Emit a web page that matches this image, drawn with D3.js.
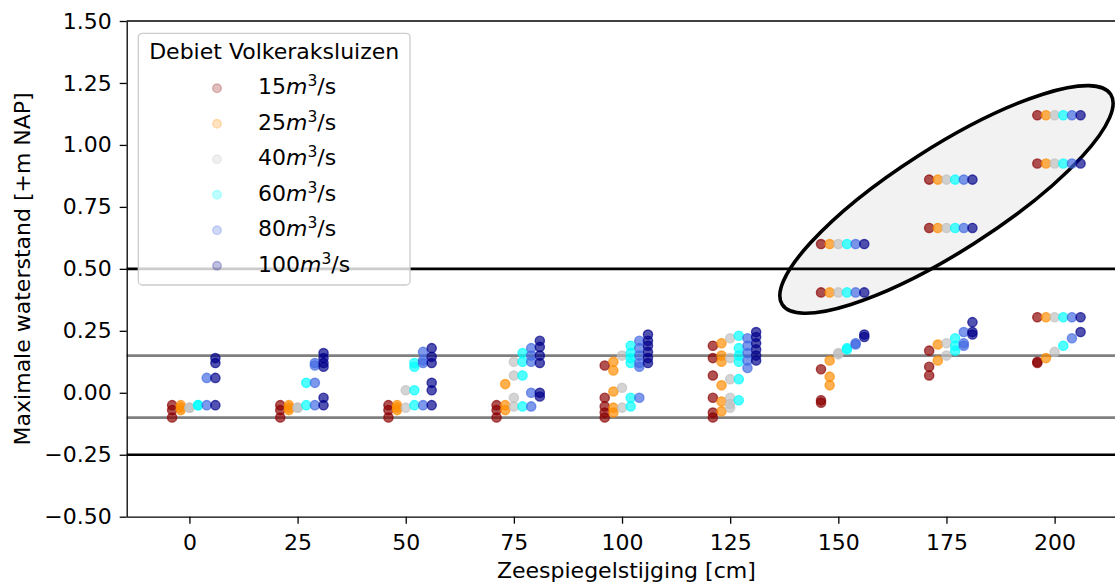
<!DOCTYPE html>
<html>
<head>
<meta charset="utf-8">
<script src="https://cdn.jsdelivr.net/npm/d3@7"></script>
<style>
  html, body { margin: 0; padding: 0; background: #fff; }
  svg { display: block; font-family: "DejaVu Sans", sans-serif; }
</style>
</head>
<body>
<svg id="chart" width="1115" height="584"></svg>
<script>
// Sea level rise scenarios (cm) on the x axis
const seaLevelRise = [0, 25, 50, 75, 100, 125, 150, 175, 200];
// Discharge through the Volkerak locks (m3/s), one series each
const flows = [15, 25, 40, 60, 80, 100];
const flowColors = ["#8b0000", "#ff8c00", "#c0c0c0", "#00ffff", "#4169e1", "#00008b"];
const yTicks = [-0.5, -0.25, 0, 0.25, 0.5, 0.75, 1.0, 1.25, 1.5];
const xTicks = [0, 25, 50, 75, 100, 125, 150, 175, 200];
// reference levels (m NAP)
const blackLevels = [0.5, -0.25];
const grayLevels = [0.15, -0.1];

// Maximum water levels (m NAP) per sea level rise, one list per flow
const q15 = [
  [-0.05, -0.07, -0.10],
  [-0.05, -0.07, -0.10],
  [-0.05, -0.07, -0.10],
  [-0.05, -0.07, -0.10],
  [0.11, -0.02, -0.055, -0.08, -0.10],
  [0.19, 0.14, 0.07, -0.02, -0.08, -0.10],
  [0.60, 0.405, 0.095, -0.03, -0.04],
  [0.86, 0.665, 0.17, 0.105, 0.07],
  [1.12, 0.925, 0.305, 0.125, 0.12]
];
const q25 = [
  [-0.05, -0.06, -0.07],
  [-0.05, -0.06, -0.07],
  [-0.05, -0.06, -0.07],
  [-0.05, -0.07, 0.035],
  [0.125, 0.09, 0.005, -0.06, -0.08],
  [0.20, 0.15, 0.125, 0.03, -0.035, -0.075],
  [0.60, 0.405, 0.13, 0.065, 0.03],
  [0.86, 0.665, 0.195, 0.13],
  [1.12, 0.925, 0.305, 0.14]
];
const q40 = [
  [-0.06, -0.06],
  [-0.06, -0.06],
  [-0.06, 0.01],
  [-0.055, -0.02, 0.07, 0.125],
  [0.15, 0.02, -0.06],
  [0.22, 0.14, 0.055, -0.02, -0.045, -0.06],
  [0.60, 0.405, 0.16, 0.155],
  [0.86, 0.665, 0.20, 0.15],
  [1.12, 0.925, 0.305, 0.165]
];
const q60 = [
  [-0.05, -0.05],
  [-0.05, 0.04],
  [-0.05, 0.01, 0.105, 0.12],
  [-0.055, 0.07, 0.125, 0.16],
  [0.19, 0.16, 0.14, 0.12, -0.02, -0.055],
  [0.23, 0.18, 0.15, 0.125, 0.055, -0.03],
  [0.60, 0.405, 0.18, 0.175],
  [0.86, 0.665, 0.22, 0.19, 0.17],
  [1.12, 0.925, 0.305, 0.19]
];
const q80 = [
  [-0.05, 0.06],
  [-0.05, 0.04, 0.11, 0.12],
  [-0.05, 0.12, 0.13, 0.165],
  [-0.055, 0.00, 0.125, 0.15, 0.18],
  [0.21, 0.18, 0.15, 0.12, 0.105, -0.02],
  [0.22, 0.19, 0.16, 0.13, 0.10],
  [0.60, 0.405, 0.20, 0.195],
  [0.86, 0.665, 0.245, 0.20, 0.19],
  [1.12, 0.925, 0.305, 0.22]
];
const q100 = [
  [-0.05, 0.06, 0.12, 0.14],
  [-0.05, -0.02, 0.105, 0.12, 0.14, 0.16],
  [-0.05, 0.01, 0.04, 0.12, 0.145, 0.18],
  [-0.015, 0.00, 0.12, 0.15, 0.185, 0.21],
  [0.235, 0.21, 0.19, 0.165, 0.14, 0.12],
  [0.245, 0.225, 0.20, 0.175, 0.15, 0.13],
  [0.60, 0.405, 0.235, 0.225],
  [0.86, 0.665, 0.285, 0.245, 0.235],
  [1.12, 0.925, 0.305, 0.245]
];
const seriesValues = [q15, q25, q40, q60, q80, q100];

// ---- layout ----
const svg = d3.select("#chart");
const plot = { left: 126.7, right: 1126, top: 21, bottom: 516.7 };
const fontSize = 22;
// horizontal dodge per flow series, in cm
const dodge = [-4, -2, 0, 2, 4, 6];

const x = d3.scaleLinear().domain([-14.5, 216.5]).range([plot.left, plot.right]);
const y = d3.scaleLinear().domain([-0.5, 1.5]).range([plot.bottom, plot.top]);

// highlighted group of high-flow cases
const highlight = { cx: 175, cy: 0.78, rx: 195, ry: 52, angle: -32.6 };
svg.append("ellipse")
  .attr("transform", `translate(${x(highlight.cx)},${y(highlight.cy)}) rotate(${highlight.angle})`)
  .attr("rx", highlight.rx).attr("ry", highlight.ry)
  .attr("fill", "#f2f2f2").attr("stroke", "#000").attr("stroke-width", 3.6);

// reference lines
svg.selectAll("line.ref-black").data(blackLevels).join("line")
  .attr("class", "ref-black")
  .attr("x1", plot.left).attr("x2", plot.right)
  .attr("y1", d => y(d)).attr("y2", d => y(d))
  .attr("stroke", "#000").attr("stroke-width", 2.7);
svg.selectAll("line.ref-gray").data(grayLevels).join("line")
  .attr("class", "ref-gray")
  .attr("x1", plot.left).attr("x2", plot.right)
  .attr("y1", d => y(d)).attr("y2", d => y(d))
  .attr("stroke", "#808080").attr("stroke-width", 2.7);

// scatter points
const points = [];
seriesValues.forEach((perLevel, si) => {
  perLevel.forEach((vals, li) => {
    vals.forEach(v => points.push({ si, xv: seaLevelRise[li] + dodge[si], v }));
  });
});
svg.append("g").selectAll("circle").data(points).join("circle")
  .attr("cx", d => x(d.xv)).attr("cy", d => y(d.v)).attr("r", 4.6)
  .attr("fill", d => flowColors[d.si]).attr("fill-opacity", 0.68)
  .attr("stroke", d => flowColors[d.si]).attr("stroke-opacity", 0.68)
  .attr("stroke-width", 1.4);

// axes
const fmt = d => d3.format(".2f")(d).replace("-", "\u2212");
const yAxis = svg.append("g").attr("transform", `translate(${plot.left},0)`)
  .call(d3.axisLeft(y).tickValues(yTicks).tickFormat(fmt).tickSize(7).tickPadding(8).tickSizeOuter(0));
const xAxis = svg.append("g").attr("transform", `translate(0,${plot.bottom})`)
  .call(d3.axisBottom(x).tickValues(xTicks).tickSize(7).tickPadding(11).tickSizeOuter(0));
[yAxis, xAxis].forEach(g => {
  g.selectAll("text").attr("font-size", fontSize).attr("font-family", "DejaVu Sans").attr("fill", "#000");
  g.selectAll("line").attr("stroke", "#000").attr("stroke-width", 1.3);
  g.select(".domain").attr("stroke", "#000").attr("stroke-width", 1.3);
});
svg.append("line")
  .attr("x1", plot.left).attr("x2", plot.right)
  .attr("y1", plot.top).attr("y2", plot.top)
  .attr("stroke", "#000").attr("stroke-width", 1.3);

// axis titles
svg.append("text")
  .attr("x", (plot.left + plot.right) / 2).attr("y", 578)
  .attr("text-anchor", "middle").attr("font-size", fontSize)
  .text("Zeespiegelstijging [cm]");
svg.append("text")
  .attr("transform", `translate(30,${(plot.top + plot.bottom) / 2}) rotate(-90)`)
  .attr("text-anchor", "middle").attr("font-size", fontSize)
  .text("Maximale waterstand [+m NAP]");

// legend
const legend = svg.append("g");
legend.append("rect")
  .attr("x", 138.3).attr("y", 33.3).attr("width", 271.7).attr("height", 251.7)
  .attr("rx", 4).attr("fill", "#fff").attr("fill-opacity", 0.8)
  .attr("stroke", "#cccccc").attr("stroke-width", 1.3);
legend.append("text")
  .attr("x", 274.2).attr("y", 59.3).attr("text-anchor", "middle")
  .attr("font-size", fontSize).text("Debiet Volkeraksluizen");
const rows = legend.selectAll("g.row").data(flows).join("g")
  .attr("class", "row")
  .attr("transform", (d, i) => `translate(0,${88.3 + i * 35.5})`);
rows.append("circle")
  .attr("cx", 217).attr("cy", 0).attr("r", 4.3)
  .attr("fill", (d, i) => flowColors[i]).attr("fill-opacity", 0.25)
  .attr("stroke", (d, i) => flowColors[i]).attr("stroke-opacity", 0.25).attr("stroke-width", 1.4);
const lt = rows.append("text").attr("x", 258).attr("y", 6).attr("font-size", fontSize);
lt.append("tspan").text(d => d);
lt.append("tspan").attr("font-style", "italic").text("m");
lt.append("tspan").attr("font-size", 15.5).attr("dy", -8).text("3");
lt.append("tspan").attr("dy", 8).text("/s");
</script>
</body>
</html>
